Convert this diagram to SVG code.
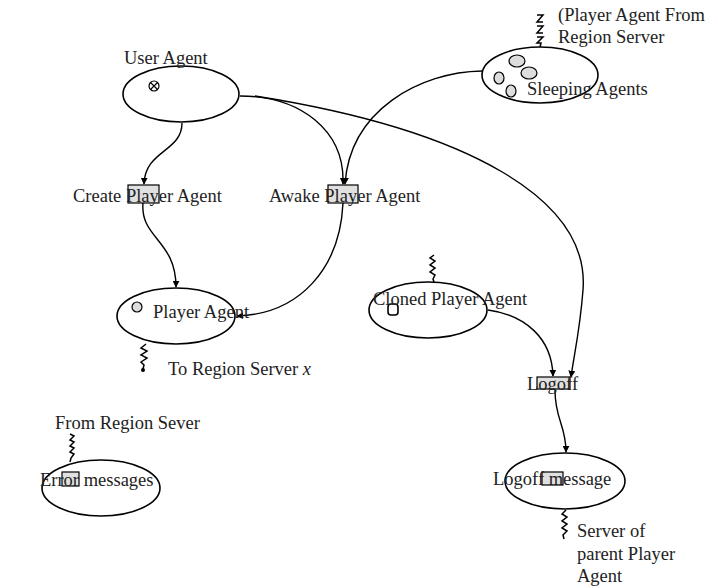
<svg xmlns="http://www.w3.org/2000/svg" width="718" height="588" viewBox="0 0 718 588">
<defs>
<style>
text{font-family:"Liberation Serif","Times New Roman",serif;font-size:18.5px;fill:#222}
.n{fill:none;stroke:#000;stroke-width:1.6}
.c{fill:none;stroke:#000;stroke-width:1.4}
.z{fill:none;stroke:#000;stroke-width:1.5}
.b{fill:#d8d8d8;stroke:#000;stroke-width:1.2;fill-opacity:0.8}
.i{fill:#ddd;stroke:#000;stroke-width:1.2}
</style>
<marker id="ah" viewBox="0 0 10 10" refX="9" refY="5" markerWidth="7" markerHeight="7" orient="auto" markerUnits="userSpaceOnUse">
<path d="M0,0 L10,5 L0,10 z" fill="#000"/>
</marker>
</defs>
<rect width="718" height="588" fill="#fff"/>
<g id="connectors">
<path class="c" d="M182,123 C182,152 145,150 144,184" marker-end="url(#ah)"/>
<path class="c" d="M240,96 C300,96 345,130 343,184" marker-end="url(#ah)"/>
<path class="c" d="M255,96 C470,130 590,200 583,290 C580,330 574,355 571,377" marker-end="url(#ah)"/>
<path class="c" d="M482,71 C420,72 350,110 345,184" marker-end="url(#ah)"/>
<path class="c" d="M143,203 C140,238 176,240 176,287" marker-end="url(#ah)"/>
<path class="c" d="M343,203 C340,268 300,314 237,316" marker-end="url(#ah)"/>
<path class="c" d="M488,310 C525,315 552,338 553,376" marker-end="url(#ah)"/>
<path class="c" d="M555,390 C555,420 566,425 566,452" marker-end="url(#ah)"/>
</g>
<g id="user-agent">
<ellipse class="n" cx="181" cy="94" rx="58" ry="28"/>
<circle cx="154" cy="86" r="5" fill="#fff" stroke="#000" stroke-width="1.2"/>
<path d="M150.5,82.5 L157.5,89.5 M157.5,82.5 L150.5,89.5" stroke="#000" stroke-width="1.2"/>
<text x="124" y="64">User Agent</text>
</g>
<g id="sleeping-agents">
<ellipse class="n" cx="540" cy="75" rx="58" ry="28"/>
<path class="z" d="M537,15 l6,0 l-6,7 l6,0 M537,26 l6,0 l-6,7 l6,0 M537,37 l6,0 l-6,6 l4,0 l-1,4"/>
<ellipse class="i" cx="517" cy="61" rx="8" ry="6"/>
<ellipse class="i" cx="529" cy="73" rx="8" ry="6"/>
<ellipse class="i" cx="499" cy="78" rx="5" ry="6"/>
<ellipse class="i" cx="511" cy="91" rx="5" ry="6"/>
<text x="558" y="21">(Player Agent From</text>
<text x="558" y="43">Region Server</text>
<text x="527" y="95">Sleeping Agents</text>
</g>
<g id="create-player-agent">
<rect class="b" x="128" y="185" width="31" height="18"/>
<text x="73" y="202">Create Player Agent</text>
</g>
<g id="awake-player-agent">
<rect class="b" x="328" y="185" width="30" height="18"/>
<text x="269" y="202">Awake Player Agent</text>
</g>
<g id="player-agent">
<ellipse class="n" cx="176" cy="316" rx="59" ry="28"/>
<circle cx="137" cy="307" r="5" class="i"/>
<path class="z" d="M146,344 l-5,4 l6,3 l-6,4 l6,3 l-6,4 l3,3 l-1,4"/>
<circle cx="143" cy="370" r="2" fill="#000"/>
<text x="153" y="318">Player Agent</text>
<text x="168" y="375">To Region Server <tspan font-style="italic">x</tspan></text>
</g>
<g id="cloned-player-agent">
<ellipse class="n" cx="428" cy="310" rx="59" ry="28"/>
<rect x="388" y="304" width="10" height="11" rx="3" fill="#fff" stroke="#000" stroke-width="1.6"/>
<path class="z" d="M434,255 l-4,3 l5,3 l-5,4 l5,3 l-5,4 l5,3 l-2,4 l1,3"/>
<text x="373" y="305">Cloned Player Agent</text>
</g>
<g id="logoff">
<rect class="b" x="537" y="377" width="33" height="12"/>
<text x="527" y="390">Logoff</text>
</g>
<g id="error-messages">
<ellipse class="n" cx="101" cy="488" rx="59" ry="28"/>
<path class="z" d="M70,434 l4,2 l-4,4 l4,2 l-4,4 l4,2 l-4,4 l4,2 l-3,4 l-1,4"/>
<rect class="b" x="62" y="472" width="17" height="14"/>
<text x="55" y="429">From Region Sever</text>
<text x="40" y="486">Error messages</text>
</g>
<g id="logoff-message">
<ellipse class="n" cx="565" cy="481" rx="60" ry="28"/>
<rect class="b" x="542" y="472" width="21" height="13"/>
<path class="z" d="M566,510 l-4,4 l5,3 l-5,4 l5,3 l-5,4 l5,3 l-4,4 l1,4"/>
<text x="493" y="485">Logoff message</text>
<text x="577" y="537">Server of</text>
<text x="577" y="560">parent Player</text>
<text x="577" y="582">Agent</text>
</g>
</svg>
